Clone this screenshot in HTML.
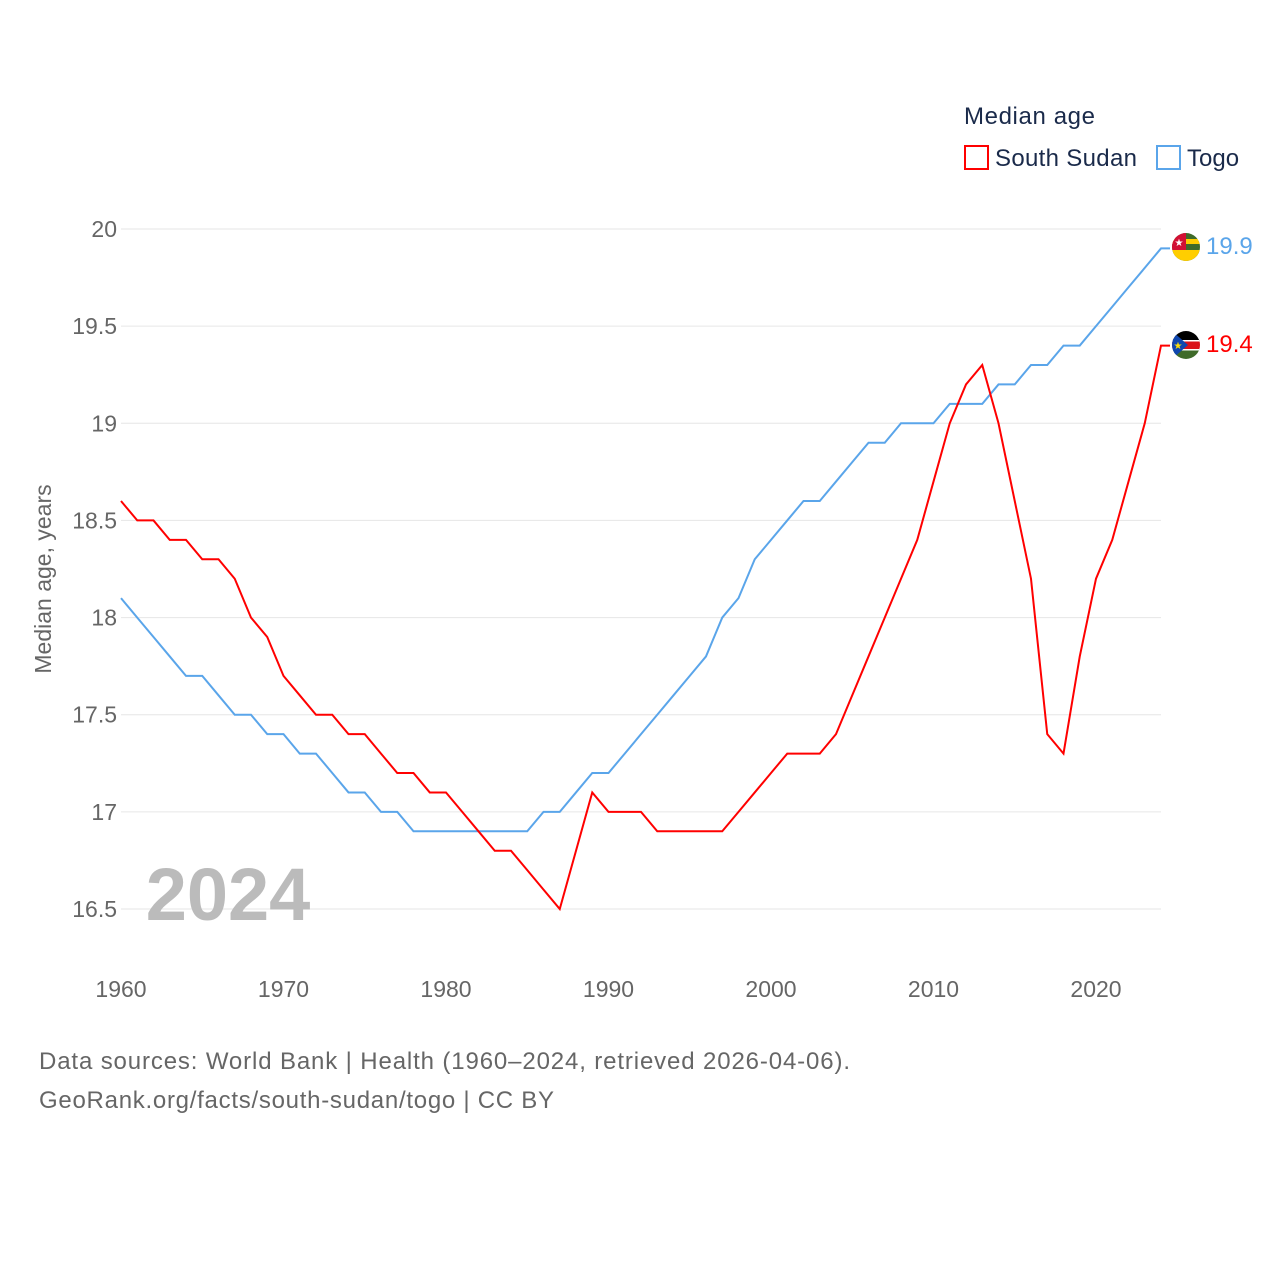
<!DOCTYPE html>
<html><head><meta charset="utf-8"><style>
body{margin:0;background:#fff;font-family:"Liberation Sans",sans-serif;}
</style></head><body>
<svg id="chart" width="1280" height="1280" xmlns="http://www.w3.org/2000/svg" font-family="Liberation Sans, sans-serif">
<defs>
<clipPath id="c1"><circle cx="1186" cy="247" r="14"/></clipPath>
<clipPath id="c2"><circle cx="1186" cy="345" r="14"/></clipPath>
</defs>
<g id="grid"></g>
<g id="lines"></g>
<text x="228" y="920" font-size="74" font-weight="bold" fill="#bbb" text-anchor="middle">2024</text>
<text transform="translate(51,579) rotate(-90)" font-size="23" fill="#666" text-anchor="middle">Median age, years</text>
<g>
<text x="964" y="124" font-size="24" fill="#1a2a4a" textLength="131">Median age</text>
<g><rect x="965" y="146" width="23" height="23" fill="none" stroke="#f00" stroke-width="2"/><text x="995" y="166" font-size="24" fill="#1a2a4a" textLength="142">South Sudan</text></g>
<g><rect x="1157" y="146" width="23" height="23" fill="none" stroke="#5aa5ea" stroke-width="2"/><text x="1187" y="166" font-size="24" fill="#1a2a4a">Togo</text></g>
</g>
<g clip-path="url(#c1)">
<rect x="1172" y="233" width="28" height="28" fill="#3f6b2a"/>
<rect x="1172" y="239" width="28" height="5" fill="#ffce00"/><rect x="1172" y="250" width="28" height="5" fill="#ffce00"/><rect x="1172" y="255" width="28" height="6" fill="#ffce00"/>
<rect x="1172" y="233" width="14" height="17" fill="#d21034"/><text x="1179" y="246" font-size="10" fill="#fff" text-anchor="middle">★</text>
</g>
<g clip-path="url(#c2)">
<rect x="1172" y="331" width="28" height="10" fill="#000"/><rect x="1172" y="341" width="28" height="8" fill="#da121a"/><rect x="1172" y="349" width="28" height="10" fill="#3f6b2a"/>
<rect x="1172" y="340" width="28" height="1.5" fill="#fff"/><rect x="1172" y="349" width="28" height="1.5" fill="#fff"/>
<polygon points="1172,331 1188,345 1172,359" fill="#0f47af"/><text x="1178" y="349" font-size="10" fill="#fcdd09" text-anchor="middle">★</text>
</g>
<text x="1206" y="254" font-size="24" fill="#5aa5ea">19.9</text>
<text x="1206" y="352" font-size="24" fill="#f00">19.4</text>
<text x="39" y="1069" font-size="24" fill="#666" textLength="811">Data sources: World Bank | Health (1960–2024, retrieved 2026-04-06).</text>
<text x="39" y="1108" font-size="24" fill="#666" textLength="515">GeoRank.org/facts/south-sudan/togo | CC BY</text>
</svg>
<script>
const years=[];for(let y=1960;y<=2024;y++)years.push(y);
const southSudan=[18.6,18.5,18.5,18.4,18.4,18.3,18.3,18.2,18.0,17.9,17.7,17.6,17.5,17.5,17.4,17.4,17.3,17.2,17.2,17.1,17.1,17.0,16.9,16.8,16.8,16.7,16.6,16.5,16.8,17.1,17.0,17.0,17.0,16.9,16.9,16.9,16.9,16.9,17.0,17.1,17.2,17.3,17.3,17.3,17.4,17.6,17.8,18.0,18.2,18.4,18.7,19.0,19.2,19.3,19.0,18.6,18.2,17.4,17.3,17.8,18.2,18.4,18.7,19.0,19.4];
const togo=[18.1,18.0,17.9,17.8,17.7,17.7,17.6,17.5,17.5,17.4,17.4,17.3,17.3,17.2,17.1,17.1,17.0,17.0,16.9,16.9,16.9,16.9,16.9,16.9,16.9,16.9,17.0,17.0,17.1,17.2,17.2,17.3,17.4,17.5,17.6,17.7,17.8,18.0,18.1,18.3,18.4,18.5,18.6,18.6,18.7,18.8,18.9,18.9,19.0,19.0,19.0,19.1,19.1,19.1,19.2,19.2,19.3,19.3,19.4,19.4,19.5,19.6,19.7,19.8,19.9];
const yTicks=[16.5,17,17.5,18,18.5,19,19.5,20];
const xTicks=[1960,1970,1980,1990,2000,2010,2020];
const NS="http://www.w3.org/2000/svg";
const xs=y=>121+(y-1960)*16.25;
const ys=v=>229+(20-v)*194.29;
const grid=document.getElementById('grid'),lines=document.getElementById('lines');
yTicks.forEach(t=>{
 const l=document.createElementNS(NS,'line');
 
 
 l.setAttribute('x1',121);l.setAttribute('x2',1161);l.setAttribute('y1',ys(t));l.setAttribute('y2',ys(t));l.setAttribute('stroke','#e6e6e6');
 grid.appendChild(l);
 const tx=document.createElementNS(NS,'text');
 
 
 tx.setAttribute('x',117);tx.setAttribute('y',ys(t)+8);tx.setAttribute('text-anchor','end');tx.setAttribute('font-size','23');tx.setAttribute('fill','#666');
 tx.textContent=String(t);grid.appendChild(tx);
});
xTicks.forEach(t=>{
 const tx=document.createElementNS(NS,'text');
 
 
 tx.setAttribute('x',xs(t));tx.setAttribute('y',997);tx.setAttribute('text-anchor','middle');tx.setAttribute('font-size','23');tx.setAttribute('fill','#666');
 tx.textContent=String(t);grid.appendChild(tx);
});
function draw(vals,color,name){
 const p=document.createElementNS(NS,'polyline');
 
 
 const pts=vals.map((v,i)=>xs(years[i])+','+ys(v));
 pts.push((xs(years[years.length-1])+9)+','+ys(vals[vals.length-1]));
 p.setAttribute('points',pts.join(' '));
 p.setAttribute('fill','none');p.setAttribute('stroke',color);p.setAttribute('stroke-width','2');
 lines.appendChild(p);
}
draw(togo,'#5aa5ea','togo-line');
draw(southSudan,'#f00','south-sudan-line');
</script>
</body></html>
